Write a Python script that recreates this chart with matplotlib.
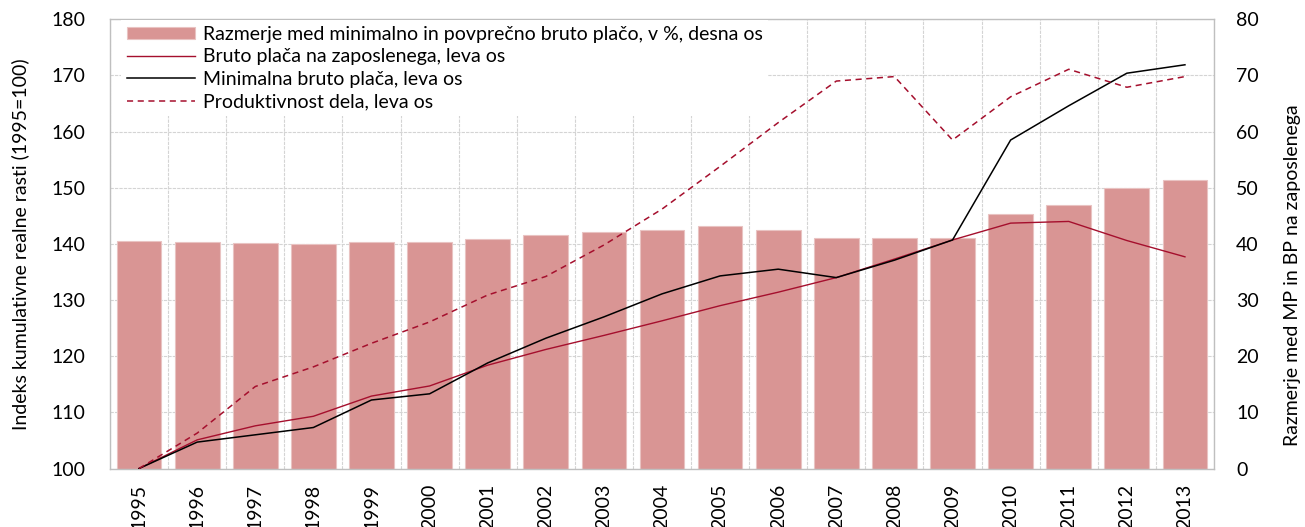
import matplotlib
matplotlib.use("Agg")
import matplotlib.pyplot as plt
from matplotlib.ticker import MultipleLocator, FixedLocator
import numpy as np

plt.rcParams['font.family'] = ['Lato', 'DejaVu Sans']

years = [str(y) for y in range(1995, 2014)]
ratio = [40.6, 40.3, 40.2, 40.0, 40.3, 40.3, 40.8, 41.5, 42.1, 42.5, 43.1, 42.5,
         41.1, 41.0, 41.1, 45.4, 47.0, 50.0, 51.3]
bruto = [100, 105.1, 107.6, 109.3, 112.9, 114.7, 118.4, 121.2, 123.7, 126.3, 129.0,
         131.4, 134.0, 137.3, 140.7, 143.7, 144.0, 140.6, 137.7]
minimalna = [100, 104.7, 106.0, 107.3, 112.2, 113.3, 118.8, 123.2, 127.0, 131.1, 134.3,
             135.5, 134.0, 137.1, 140.7, 158.5, 164.6, 170.4, 171.9]
produktivnost = [100, 106.3, 114.6, 118.1, 122.3, 126.1, 130.9, 134.2, 139.8, 146.2, 153.8,
                 161.6, 169.0, 169.8, 158.5, 166.2, 171.1, 167.9, 169.8]

lab_ratio = "Razmerje med minimalno in povprečno bruto plačo, v %, desna os"
lab_bruto = "Bruto plača na zaposlenega, leva os"
lab_min = "Minimalna bruto plača, leva os"
lab_prod = "Produktivnost dela, leva os"
ylabel_left = "Indeks kumulativne realne rasti (1995=100)"
ylabel_right = "Razmerje med MP in BP na zaposlenega"

FS = 14
RED = '#a50f2d'
BAR = '#d99594'
GRID = '#d4d4d4'
SPINE = '#bfbfbf'

fig = plt.figure(figsize=(13.05, 5.27), dpi=100)
ax = fig.add_axes([110/1305, 1 - 468.5/527, (1214-110)/1305, (468.5-19.3)/527])
ax2 = ax.twinx()
x = np.arange(len(years))

# primary axes: bars, right-hand scale
bars = ax.bar(x, ratio, width=0.77, color=BAR, edgecolor='#e9c3c2', linewidth=0.8,
              zorder=2, label=lab_ratio)
ax.set_ylim(0, 80)
ax.set_xlim(-0.5, len(years) - 0.5)
ax.yaxis.set_major_locator(MultipleLocator(10))
ax.yaxis.tick_right()
ax.yaxis.set_label_position('right')
ax.set_ylabel(ylabel_right, fontsize=FS, va='center')
ax.yaxis.set_label_coords(1.0707, 0.43)
ax.set_xticks(x)
ax.set_xticklabels(years, rotation=90, fontsize=FS)
ax.xaxis.set_minor_locator(FixedLocator(np.arange(-0.5, len(years), 1.0)))
ax.grid(True, which='minor', axis='x', color=GRID, lw=0.8, ls=(0, (3, 1)), zorder=0)
ax.grid(True, which='major', axis='y', color=GRID, lw=0.8, ls=(0, (3, 1)), zorder=0)
ax.grid(False, which='major', axis='x')
ax.set_axisbelow(True)
ax.tick_params(axis='y', which='both', left=False, right=False, labelleft=False,
               labelright=True, length=0, labelsize=FS, pad=16)
ax.tick_params(axis='x', which='both', length=0, labelsize=FS, pad=11)
for s in ax.spines.values():
    s.set_color(SPINE)
    s.set_linewidth(1.0)

# secondary axes: lines, left-hand scale
ax2.set_ylim(100, 180)
ax2.yaxis.set_major_locator(MultipleLocator(10))
ax2.yaxis.tick_left()
ax2.yaxis.set_label_position('left')
ax2.set_ylabel(ylabel_left, fontsize=FS, va='center')
ax2.yaxis.set_label_coords(-0.0815, 0.5)
ax2.tick_params(axis='y', which='both', left=False, right=False, labelleft=True,
                labelright=False, length=0, labelsize=FS, pad=18)
for s in ax2.spines.values():
    s.set_visible(False)

l1, = ax2.plot(x, bruto, color=RED, lw=1.0, label=lab_bruto, zorder=3)
l2, = ax2.plot(x, minimalna, color='black', lw=1.1, label=lab_min, zorder=3)
l3, = ax2.plot(x, produktivnost, color=RED, lw=1.1, ls=(0, (4, 3)), label=lab_prod, zorder=3)

leg = ax2.legend([bars, l1, l2, l3], [lab_ratio, lab_bruto, lab_min, lab_prod],
                 loc='upper left', bbox_to_anchor=(0.010, 0.998), borderaxespad=0,
                 fontsize=FS, frameon=True, fancybox=False, framealpha=1,
                 facecolor='white', edgecolor='none', handlelength=3.5,
                 handleheight=0.6, handletextpad=0.4, labelspacing=0.28,
                 borderpad=0.3)
leg.set_zorder(10)

fig.savefig('out.png', dpi=100)
